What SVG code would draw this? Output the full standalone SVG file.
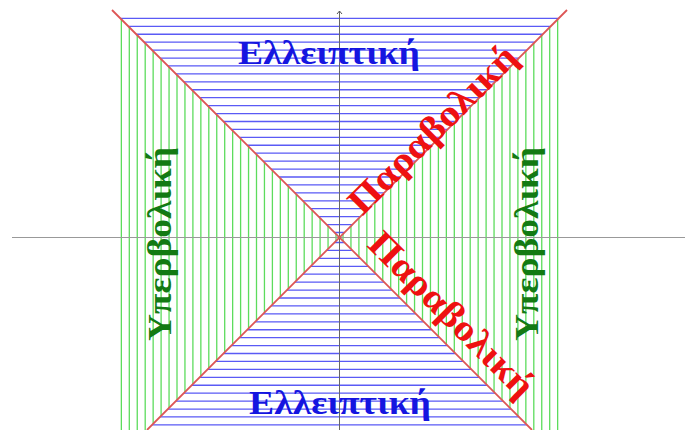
<svg xmlns="http://www.w3.org/2000/svg" width="685" height="430" viewBox="0 0 685 430">
<style>
.blue{stroke:#5a5af5;stroke-width:1.3;fill:none}
.green{stroke:#5ddc5d;stroke-width:1.3;fill:none}
.red{stroke:#dd5555;stroke-width:1.8;fill:none}
.lbl{font-family:"Liberation Serif","DejaVu Serif",serif;font-weight:bold;font-size:33px;text-anchor:middle}
.big{font-size:37px}
</style>
<defs>
<marker id="ah" markerWidth="8" markerHeight="8" refX="4" refY="4" orient="auto" markerUnits="userSpaceOnUse">
<path d="M1,1.5 L4,4 L1,6.5" fill="none" stroke="#555" stroke-width="1"/>
</marker>
</defs>
<rect width="685" height="430" fill="#fff"/>
<g id="hatching">
<path class="blue" d="M334.5 232.5H344.5M326.57 224.57H352.43M318.64 216.64H360.36M310.71 208.71H368.29M302.78 200.78H376.22M294.85 192.85H384.15M286.92 184.92H392.08M278.99 176.99H400.01M271.06 169.06H407.94M263.13 161.13H415.87M255.2 153.2H423.8M247.27 145.27H431.73M239.34 137.34H439.66M231.41 129.41H447.59M223.48 121.48H455.52M215.55 113.55H463.45M207.62 105.62H471.38M199.69 97.69H479.31M191.76 89.76H487.24M183.83 81.83H495.17M175.9 73.9H503.1M167.97 65.97H511.03M160.04 58.04H518.96M152.11 50.11H526.89M144.18 42.18H534.82M136.25 34.25H542.75M128.32 26.32H550.68M120.39 18.39H558.61"/>
<path class="blue" d="M334.5 242.5H344.5M326.57 250.43H352.43M318.64 258.36H360.36M310.71 266.29H368.29M302.78 274.22H376.22M294.85 282.15H384.15M286.92 290.08H392.08M278.99 298.01H400.01M271.06 305.94H407.94M263.13 313.87H415.87M255.2 321.8H423.8M247.27 329.73H431.73M239.34 337.66H439.66M231.41 345.59H447.59M223.48 353.52H455.52M215.55 361.45H463.45M207.62 369.38H471.38M199.69 377.31H479.31M191.76 385.24H487.24M183.83 393.17H495.17M175.9 401.1H503.1M167.97 409.03H511.03M160.04 416.96H518.96M152.11 424.89H526.89"/>
<path class="green" d="M336 234V241M328.05 226.05V248.95M320.1 218.1V256.9M312.15 210.15V264.85M304.2 202.2V272.8M296.25 194.25V280.75M288.3 186.3V288.7M280.35 178.35V296.65M272.4 170.4V304.6M264.45 162.45V312.55M256.5 154.5V320.5M248.55 146.55V328.45M240.6 138.6V336.4M232.65 130.65V344.35M224.7 122.7V352.3M216.75 114.75V360.25M208.8 106.8V368.2M200.85 98.85V376.15M192.9 90.9V384.1M184.95 82.95V392.05M177 75V400M169.05 67.05V407.95M161.1 59.1V415.9M153.15 51.15V423.85M145.2 43.2V430M137.25 35.25V430M129.3 27.3V430M121.35 19.35V430"/>
<path class="green" d="M343 234V241M350.95 226.05V248.95M358.9 218.1V256.9M366.85 210.15V264.85M374.8 202.2V272.8M382.75 194.25V280.75M390.7 186.3V288.7M398.65 178.35V296.65M406.6 170.4V304.6M414.55 162.45V312.55M422.5 154.5V320.5M430.45 146.55V328.45M438.4 138.6V336.4M446.35 130.65V344.35M454.3 122.7V352.3M462.25 114.75V360.25M470.2 106.8V368.2M478.15 98.85V376.15M486.1 90.9V384.1M494.05 82.95V392.05M502 75V400M509.95 67.05V407.95M517.9 59.1V415.9M525.85 51.15V423.85M533.8 43.2V430M541.75 35.25V430M549.7 27.3V430M557.65 19.35V430"/>
</g>
<g id="axes">
<line x1="12" y1="237.5" x2="685" y2="237.5" stroke="#999" stroke-width="1.2"/>
<line x1="339.5" y1="430" x2="339.5" y2="11" stroke="#666" stroke-width="1" marker-end="url(#ah)"/>
</g>
<g id="connectors">
<line class="red" x1="112" y1="10" x2="532" y2="430"/>
<line class="red" x1="567" y1="10" x2="147" y2="430"/>
</g>
<g id="ell-top"><text class="lbl" x="329" y="64" fill="#1515e0" textLength="182" lengthAdjust="spacingAndGlyphs">Ελλειπτική</text></g>
<g id="ell-bottom"><text class="lbl" x="340" y="414" fill="#1515e0" textLength="182" lengthAdjust="spacingAndGlyphs">Ελλειπτική</text></g>
<g id="par-top"><text class="lbl big" transform="translate(441,138) rotate(-45)" fill="#ee1111" textLength="222" lengthAdjust="spacingAndGlyphs">Παραβολική</text></g>
<g id="par-bottom"><text class="lbl big" transform="translate(443,323) rotate(45)" fill="#ee1111" textLength="218" lengthAdjust="spacingAndGlyphs">Παραβολική</text></g>
<g id="hyp-left"><text class="lbl" transform="translate(171,244) rotate(-90)" fill="#137a13" textLength="194" lengthAdjust="spacingAndGlyphs">Υπερβολική</text></g>
<g id="hyp-right"><text class="lbl" transform="translate(538,244) rotate(-90)" fill="#137a13" textLength="194" lengthAdjust="spacingAndGlyphs">Υπερβολική</text></g>
</svg>
